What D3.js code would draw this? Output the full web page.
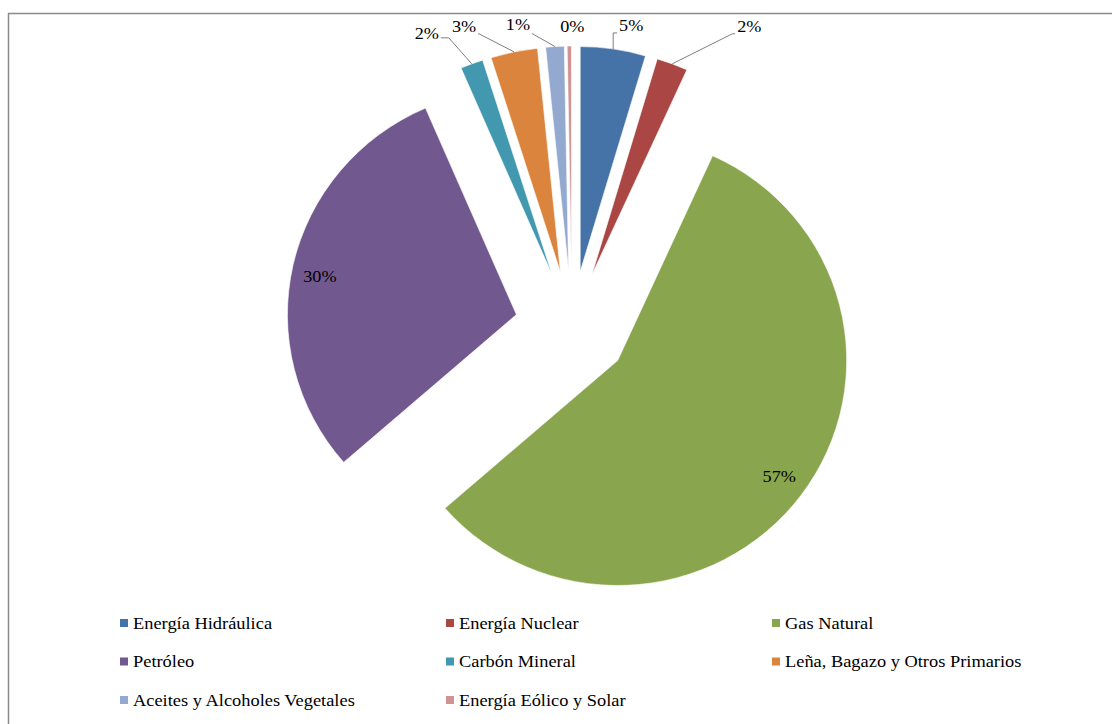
<!DOCTYPE html>
<html><head><meta charset="utf-8">
<script src="https://cdn.jsdelivr.net/npm/d3@7"></script>
<style>body{margin:0;background:#fff} svg{display:block} text{font-family:"Liberation Serif","Times New Roman",serif;}</style>
</head><body><svg id="c" width="1112" height="724"></svg>
<script>
// ---- data ----
const categories = ["Energía Hidráulica","Energía Nuclear","Gas Natural","Petróleo","Carbón Mineral","Leña, Bagazo y Otros Primarios","Aceites y Alcoholes Vegetales","Energía Eólico y Solar"];
const values = [4.6, 2.2, 56.8, 29.9, 1.6, 3.3, 1.3, 0.3];
const colors = ["#4572A7","#AA4643","#89A54E","#71588F","#4198AF","#DB843D","#93A9CF","#D19392"];
// label placement (layout only): inside labels or outside with leader
const labelInside = [false,false,true,true,false,false,false,false];
// outside label: text centre offset from arc point [tx,ty], leader elbow offset [ex,ey] (null = no leader)
const labelText = [[18,-24],[77,-38],null,null,[-45,-31],[-50,-26],[-37,-22],[3,-20]];
const labelElbow = [[0,-16],[60,-30],null,null,[-23,-26],[-35,-18],[-23,-13],null];

// ---- layout ----
const svg = d3.select("#c");
const W = 1112, H = 724;
const cx = 572, cy = 327, ry = 225, sx = 229/225, explode = 56;
const textSX = 1.07;
const total = d3.sum(values);

// frame
svg.append("line").attr("x1",8.5).attr("y1",13).attr("x2",8.5).attr("y2",H).attr("stroke","#8a8a8a").attr("stroke-width",1.5);
svg.append("line").attr("x1",8).attr("y1",13.5).attr("x2",W).attr("y2",13.5).attr("stroke","#8a8a8a").attr("stroke-width",1.5);

const pie = d3.pie().sort(null).value(d => d)(values);
const arc = d3.arc().innerRadius(0).outerRadius(ry);

const fmt = v => Math.round(v / total * 100) + "%";

pie.forEach((p, i) => {
  const mid = (p.startAngle + p.endAngle) / 2;
  const s = Math.sin(mid), c = Math.cos(mid);
  const ax = cx + explode * sx * s, ay = cy - explode * c;
  svg.append("g")
    .attr("transform", `translate(${ax},${ay}) scale(${sx},1)`)
    .append("path")
    .attr("d", arc(p))
    .attr("fill", colors[i])
    .attr("stroke", "#fff").attr("stroke-width", 0.6);
});

function addText(g, x, y, str, anchor) {
  return g.append("text")
    .attr("transform", `translate(${x},${y}) scale(${textSX},1)`)
    .attr("text-anchor", anchor).attr("dominant-baseline","central")
    .text(str);
}

const labels = svg.append("g").style("font-size","17px").attr("fill","#000");
pie.forEach((p, i) => {
  const mid = (p.startAngle + p.endAngle) / 2;
  const s = Math.sin(mid), c = Math.cos(mid);
  const ax = cx + explode * sx * s, ay = cy - explode * c;
  if (labelInside[i]) {
    addText(labels, ax + 0.88 * ry * sx * s, ay - 0.88 * ry * c + (c > 0 ? 5 : -3), fmt(values[i]), "middle");
  } else {
    const px = ax + ry * sx * s, py = ay - ry * c;
    const tx = px + labelText[i][0], ty = py + labelText[i][1];
    const t = addText(labels, tx, ty, fmt(values[i]), "middle");
    if (labelElbow[i]) {
      const hw = t.node().getComputedTextLength() * textSX / 2;
      const ex = px + labelElbow[i][0], ey = py + labelElbow[i][1];
      const endX = labelText[i][0] > 0 ? tx - hw - 2 : tx + hw + 2;
      svg.append("polyline")
        .attr("points", `${px},${py} ${ex},${ey} ${endX},${ey}`)
        .attr("fill","none").attr("stroke","#7f7f7f").attr("stroke-width",1);
    }
  }
});

// legend
const cols = 3;
const colX = d3.scaleLinear().domain([0,1]).range([120, 446]);
const rowY = d3.scaleLinear().domain([0,1]).range([623, 661.5]);
const leg = svg.append("g").style("font-size","17.2px").attr("fill","#000");
categories.forEach((name, i) => {
  const x = colX(i % cols), y = rowY(Math.floor(i / cols));
  leg.append("rect").attr("x", x).attr("y", y - 4).attr("width", 8).attr("height", 8).attr("fill", colors[i]);
  addText(leg, x + 13, y, name, "start");
});
</script>
</body></html>
